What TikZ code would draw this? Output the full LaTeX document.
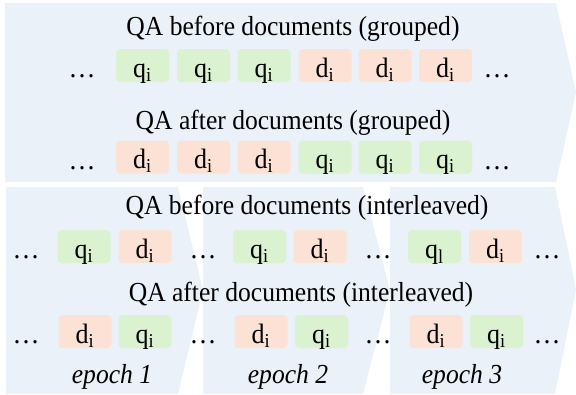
\documentclass[tikz,border=0pt]{standalone}
\usepackage{fontspec}
\setmainfont[FakeStretch=0.93]{Liberation Serif}
\definecolor{bgblue}{HTML}{EAF1F9}
\definecolor{qgreen}{HTML}{DAF2D0}
\definecolor{dsalmon}{HTML}{FBE2D5}
\begin{document}
\begin{tikzpicture}[x=1pt,y=-1pt,
  band/.style={fill=bgblue},
  tok/.style={rounded corners=4pt, minimum width=53pt, minimum height=33pt, inner sep=0pt,
    text height=23pt, text depth=0pt, font=\fontsize{28}{30}\selectfont},
  qtok/.style={tok, fill=qgreen},
  dtok/.style={tok, fill=dsalmon},
  dotsnode/.style={anchor=base, inner sep=0pt, font=\fontsize{29}{32}\selectfont},
  titlenode/.style={anchor=base, inner sep=0pt, font=\fontsize{27.5}{30}\selectfont},
  epochnode/.style={anchor=base, inner sep=0pt, font=\fontsize{27.5}{30}\selectfont\itshape}]
\fill[white] (0,0) rectangle (576,394);
\useasboundingbox (0,0) rectangle (576,394);
% bands
\fill[band] (5,3) -- (556,3) -- (576,92.5) -- (556,182) -- (5,182) -- cycle;
\fill[band] (6,187) -- (178,187) -- (203,290) -- (178,394) -- (6,394) -- cycle;
\fill[band] (203,187) -- (363,187) -- (390,290) -- (363,394) -- (203,394) -- cycle;
\fill[band] (390,187) -- (555,187) -- (576,290) -- (555,394) -- (390,394) -- cycle;
% titles
\node[titlenode] (t1) at (293,35) {QA before documents (grouped)};
\node[titlenode] (t2) at (293,129) {QA after documents (grouped)};
\node[titlenode] (t3) at (307,214) {QA before documents (interleaved)};
\node[titlenode] (t4) at (301,301) {QA after documents (interleaved)};
% row 1
\node[dotsnode] (r1l) at (82,77) {…};
\node[qtok] (r1a) at (142.5,65.5) {q\textsubscript{i}};
\node[qtok] (r1b) at (203.5,65.5) {q\textsubscript{i}};
\node[qtok] (r1c) at (264,65.5) {q\textsubscript{i}};
\node[dtok] (r1d) at (325,65.5) {d\textsubscript{i}};
\node[dtok] (r1e) at (385,65.5) {d\textsubscript{i}};
\node[dtok] (r1f) at (445.5,65.5) {d\textsubscript{i}};
\node[dotsnode] (r1r) at (497,77) {…};
% row 2
\node[dotsnode] (r2l) at (82,169) {…};
\node[dtok] (r2a) at (142.5,157) {d\textsubscript{i}};
\node[dtok] (r2b) at (203.5,157) {d\textsubscript{i}};
\node[dtok] (r2c) at (264,157) {d\textsubscript{i}};
\node[qtok] (r2d) at (325,157) {q\textsubscript{i}};
\node[qtok] (r2e) at (385,157) {q\textsubscript{i}};
\node[qtok] (r2f) at (445.5,157) {q\textsubscript{i}};
\node[dotsnode] (r2r) at (497,169) {…};
% row 3
\node[dotsnode] (r3a) at (26,258) {…};
\node[qtok] (r3b) at (84,246.5) {q\textsubscript{i}};
\node[dtok] (r3c) at (145,246.5) {d\textsubscript{i}};
\node[dotsnode] (r3d) at (203,258) {…};
\node[qtok] (r3e) at (259.5,246.5) {q\textsubscript{i}};
\node[dtok] (r3f) at (320,246.5) {d\textsubscript{i}};
\node[dotsnode] (r3g) at (378,258) {…};
\node[qtok] (r3h) at (434.5,246.5) {q\textsubscript{l}};
\node[dtok] (r3i) at (495.5,246.5) {d\textsubscript{i}};
\node[dotsnode] (r3j) at (547,258) {…};
% row 4
\node[dotsnode] (r4a) at (26,343) {…};
\node[dtok] (r4b) at (85,331.5) {d\textsubscript{i}};
\node[qtok] (r4c) at (145,331.5) {q\textsubscript{i}};
\node[dotsnode] (r4d) at (203,343) {…};
\node[dtok] (r4e) at (261,331.5) {d\textsubscript{i}};
\node[qtok] (r4f) at (321.5,331.5) {q\textsubscript{i}};
\node[dotsnode] (r4g) at (378,343) {…};
\node[dtok] (r4h) at (436,331.5) {d\textsubscript{i}};
\node[qtok] (r4i) at (496.5,331.5) {q\textsubscript{i}};
\node[dotsnode] (r4j) at (547,343) {…};
% epochs
\node[epochnode] (ep1) at (112,383) {epoch 1};
\node[epochnode] (ep2) at (288,383) {epoch 2};
\node[epochnode] (ep3) at (462,383) {epoch 3};
\end{tikzpicture}
\end{document}
